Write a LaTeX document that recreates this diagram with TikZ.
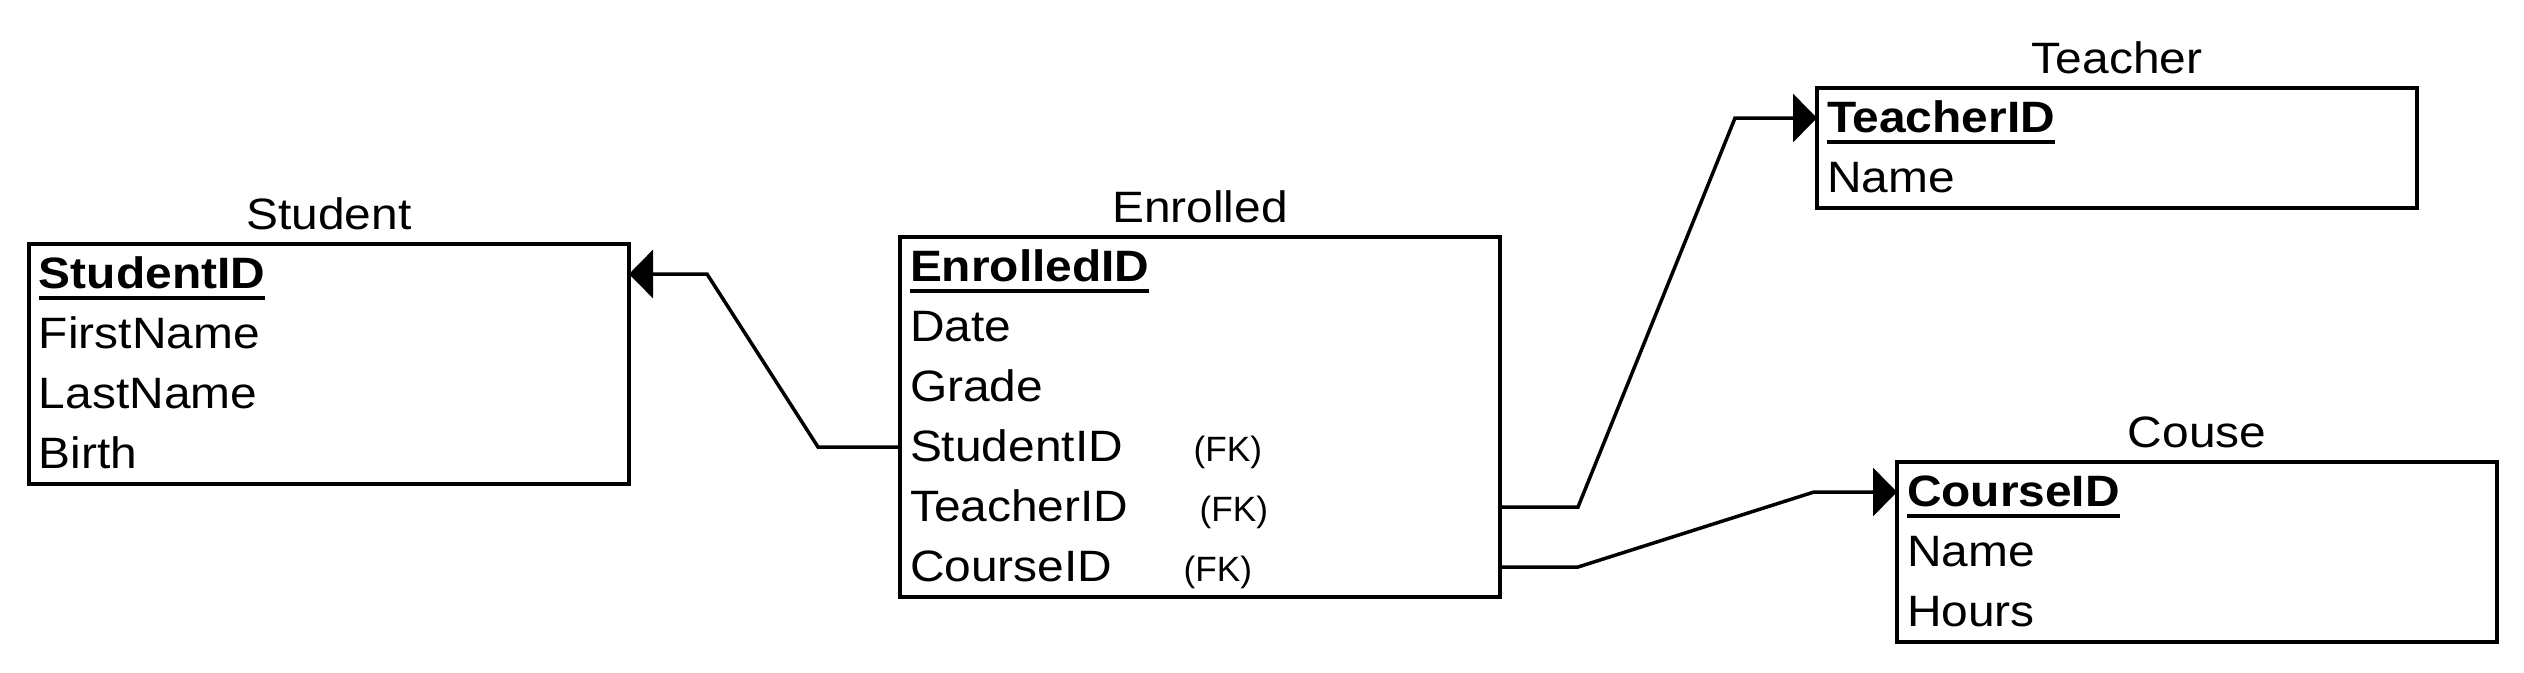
\documentclass[tikz,border=0pt]{standalone}
\usepackage{fontspec}
\setmainfont{Liberation Sans}[FakeStretch=1.09]
\newfontfamily\fkfont{Liberation Sans}
\usetikzlibrary{positioning, fit, arrows.meta}

\newcommand{\rowfont}{\fontsize{12.5}{14}\selectfont}
\newcommand{\keyattr}[1]{\sbox0{\bfseries #1}\rlap{\rule[-1.2mm]{\wd0}{0.4mm}}\usebox0}

\begin{document}
\begin{tikzpicture}[
	x=1mm, y=1mm,
	row/.style={rectangle, inner xsep=1mm, inner ysep=0pt, outer sep=0pt, text width=58mm, minimum height=6mm, text height=3.2mm, text depth=0.4mm, align=left, font=\rowfont},
	entity/.style={rectangle, draw=black, line width=0.45mm, inner sep=0pt},
	header/.style={inner sep=0pt, text depth=0pt, font=\rowfont},
	fkey/.style={inner sep=0pt, anchor=base west, font=\fkfont\fontsize{10}{12}\selectfont},
	link/.style={line width=0.35mm, -{Triangle[length=2.4mm, width=4.8mm]}}
	]

	\useasboundingbox (0,0) rectangle (252.4,-67.2);

	% Student
	\node (sid) [row, anchor=north west] at (2.9,-24.4) {\keyattr{StudentID}};
	\node (sfirst) [row, below=0pt of sid] {FirstName};
	\node (slast) [row, below=0pt of sfirst] {LastName};
	\node (sbirth) [row, below=0pt of slast] {Birth};
	\node (student) [entity, fit=(sid)(sbirth)] {};
	\node [header, above=1.2mm of student] {Student};

	% Enrolled
	\node (eid) [row, anchor=north west] at (90,-23.7) {\keyattr{EnrolledID}};
	\node (edate) [row, below=0pt of eid] {Date};
	\node (egrade) [row, below=0pt of edate] {Grade};
	\node (esid) [row, below=0pt of egrade] {StudentID};
	\node (etid) [row, below=0pt of esid] {TeacherID};
	\node (ecid) [row, below=0pt of etid] {CourseID};
	\node (enrolled) [entity, fit=(eid)(ecid)] {};
	\node [header, above=1.2mm of enrolled] {Enrolled};
		\node (esidfk) [fkey] at ([xshift=29.3mm]esid.base west) {(FK)};
		\node (etidfk) [fkey] at ([xshift=29.9mm]etid.base west) {(FK)};
		\node (ecidfk) [fkey] at ([xshift=28.3mm]ecid.base west) {(FK)};

	% Teacher
	\node (tid) [row, anchor=north west] at (181.7,-8.8) {\keyattr{TeacherID}};
	\node (tname) [row, below=0pt of tid] {Name};
	\node (teacher) [entity, fit=(tid)(tname)] {};
	\node [header, above=1.2mm of teacher] {Teacher};

	% Couse
	\node (cid) [row, anchor=north west] at (189.7,-46.2) {\keyattr{CourseID}};
	\node (cname) [row, below=0pt of cid] {Name};
	\node (chours) [row, below=0pt of cname] {Hours};
	\node (course) [entity, fit=(cid)(chours)] {};
	\node [header, above=1.2mm of course] {Couse};

	\draw [link] (esid.west)--++(-8.2,0)--([xshift=7.8mm]sid.east)--(sid.east);
	\draw [link] (etid.east)--++(7.8,0)--([xshift=-8.2mm]tid.west)--(tid.west);
	\draw [link] (ecid.east)--++(7.8,0)--([xshift=-8.3mm]cid.west)--(cid.west);

\end{tikzpicture}
\end{document}
